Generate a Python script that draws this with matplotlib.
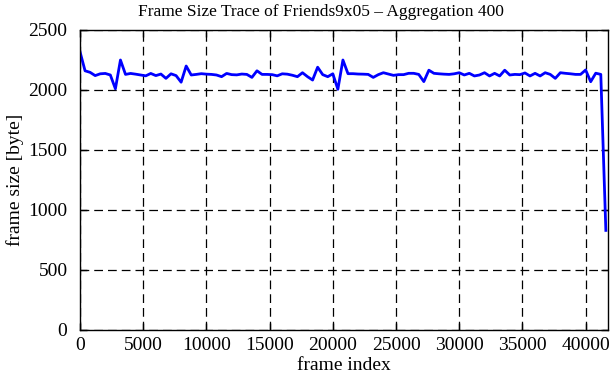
import matplotlib
matplotlib.use("Agg")
import matplotlib.pyplot as plt
import numpy as np

plt.rcParams['font.family'] = ['Liberation Serif', 'DejaVu Serif']

# aggregated frame sizes, one value every 400 frames
step = 400
frame_size = [
    2319, 2160, 2147, 2120, 2135, 2138, 2125, 2010, 2250, 2130,
    2138, 2132, 2125, 2118, 2138, 2120, 2133, 2097, 2135, 2120,
    2065, 2200, 2125, 2130, 2136, 2132, 2130, 2125, 2111, 2138,
    2128, 2126, 2133, 2130, 2105, 2160, 2130, 2130, 2128, 2118,
    2135, 2132, 2123, 2111, 2144, 2111, 2083, 2190, 2128, 2111,
    2135, 2006, 2250, 2136, 2136, 2133, 2132, 2130, 2105, 2128,
    2144, 2133, 2122, 2128, 2128, 2139, 2139, 2130, 2070, 2165,
    2139, 2135, 2132, 2130, 2135, 2144, 2125, 2139, 2117, 2125,
    2144, 2117, 2139, 2117, 2165, 2125, 2130, 2128, 2142, 2117,
    2139, 2117, 2144, 2130, 2097, 2144, 2139, 2135, 2130, 2130,
    2167, 2069, 2140, 2130, 830,
]
frame_index = np.arange(len(frame_size)) * step

x_ticks = [0, 5000, 10000, 15000, 20000, 25000, 30000, 35000, 40000]
y_ticks = [0, 500, 1000, 1500, 2000, 2500]

fig = plt.figure(figsize=(6.11, 3.80), dpi=100)
ax = fig.add_axes([80 / 611, 50 / 380, 528 / 611, 300 / 380])

ax.plot(frame_index, frame_size, color='#0000ff', lw=2.0)

ax.set_xlim(0, 41770)
ax.set_ylim(0, 2500)
ax.set_xticks(x_ticks)
ax.set_yticks(y_ticks)
ax.grid(True, color='black', ls=(0, (7, 4)), lw=0.9)
ax.tick_params(direction='in', length=5, width=1, top=True, right=True,
               labelsize=14, colors='black', pad=5)
ax.tick_params(axis='y', pad=9)
for s in ax.spines.values():
    s.set_linewidth(1.0)

# title is centred on the whole picture, not on the axes
fig.text(321 / 611, 1 - 12 / 380, 'Frame Size Trace of Friends9x05 \u2013 Aggregation 400',
         fontsize=12.5, ha='center', va='center')
ax.set_xlabel('frame index', fontsize=14, labelpad=2)
ax.set_ylabel('frame size [byte]', fontsize=14, labelpad=3)

fig.savefig('out.png', dpi=100)
